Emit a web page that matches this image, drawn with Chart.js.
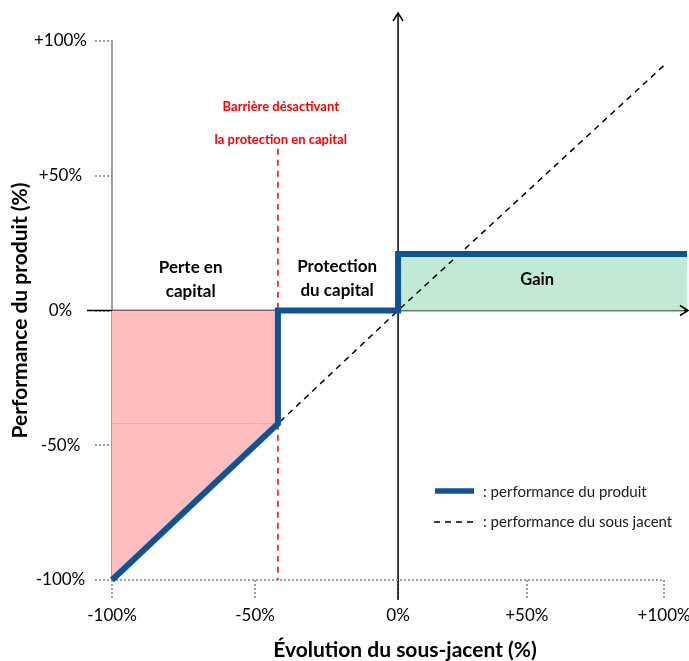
<!DOCTYPE html>
<html>
<head>
<meta charset="utf-8">
<script src="https://cdn.jsdelivr.net/npm/chart.js@4"></script>
<style>
  html, body { margin: 0; padding: 0; background: #fff; }
  #wrap { width: 689px; height: 661px; }
</style>
</head>
<body>
<div id="wrap"><canvas id="myChart"></canvas></div>
<script>
// x = évolution du sous-jacent (%), y = performance du produit (%)
var productX = [-100, -42, -42, 0, 0, 101];
var productY = [-100, -42, 0, 0, 21, 21];
var underlyingX = [-100, 0, 93];
var underlyingY = [-100, 0, 91];
var barrierX = [-42, -42];
var barrierY = [60, -100];
var lossX = [-100, -42];
var lossY = [-100, -42];
var gainX = [0, 101];
var gainY = [21, 21];
var frameX = [-100, 93];
var frameY = [-100, -100];

var xTickValues = [-100, -50, 0, 45, 93];
var xTickLabels = ["-100%", "-50%", "0%", "+50%", "+100%"];
var yTickValues = [-100, -50, 0, 50, 100];
var yTickLabels = ["-100%", "-50%", "0%", "+50%", "+100%"];

var FONT = "Lato, 'Open Sans', sans-serif";
var BLUE = "#0f5396";
var GRAY = "#a0a0a0";

function pts(xs, ys) {
  return xs.map(function (x, i) { return { x: x, y: ys[i] }; });
}

function setTicks(values) {
  return function (scale) {
    scale.ticks = values.map(function (v) { return { value: v }; });
  };
}

function labelFor(values, labels) {
  return function (value) {
    var i = values.indexOf(value);
    return i < 0 ? "" : labels[i];
  };
}

// black axes, drawn under the curves; arrow heads drawn on top
var axesPlugin = {
  id: "axes",
  beforeDatasetsDraw: function (chart) {
    var ctx = chart.ctx;
    var xs = chart.scales.x, ys = chart.scales.y;
    var x0 = xs.getPixelForValue(0), y0 = ys.getPixelForValue(0);
    ctx.save();
    ctx.strokeStyle = "#000";
    ctx.lineWidth = 1.5;
    ctx.beginPath();
    ctx.moveTo(x0, ys.bottom + 20);
    ctx.lineTo(x0, 13);
    ctx.moveTo(xs.left - 25, y0);
    ctx.lineTo(chart.width - 1, y0);
    ctx.stroke();
    ctx.restore();
  },
  afterDatasetsDraw: function (chart) {
    var ctx = chart.ctx;
    var x0 = chart.scales.x.getPixelForValue(0);
    var y0 = chart.scales.y.getPixelForValue(0);
    var right = chart.width - 1, top = 13;
    ctx.save();
    ctx.strokeStyle = "#000";
    ctx.lineWidth = 1.5;
    ctx.beginPath();
    ctx.moveTo(x0 - 5, top + 8);
    ctx.lineTo(x0, top);
    ctx.lineTo(x0 + 5, top + 8);
    ctx.moveTo(right - 8, y0 - 5);
    ctx.lineTo(right, y0);
    ctx.lineTo(right - 8, y0 + 5);
    ctx.moveTo(right - 4, y0);
    ctx.lineTo(right, y0);
    ctx.stroke();
    ctx.restore();
  }
};

// zone labels, legend and x axis title
var textPlugin = {
  id: "texts",
  afterDatasetsDraw: function (chart) {
    var ctx = chart.ctx;
    var xs = chart.scales.x, ys = chart.scales.y;
    function text(str, vx, vy, size, color) {
      ctx.font = "bold " + size + "px " + FONT;
      ctx.fillStyle = color;
      ctx.fillText(str, xs.getPixelForValue(vx), ys.getPixelForValue(vy));
    }
    ctx.save();
    ctx.textAlign = "center";
    ctx.textBaseline = "middle";
    text("Barrière désactivant", -41, 75.5, 13, "#ff0000");
    text("la protection en capital", -41, 63.3, 13, "#ff0000");
    text("Perte en", -72.5, 16, 17, "#000");
    text("capital", -72.5, 7, 17, "#000");
    text("Protection", -21.3, 16.3, 17, "#000");
    text("du capital", -21.3, 7.5, 17, "#000");
    text("Gain", 48.6, 11.3, 16.5, "#000");

    // legend
    ctx.lineWidth = 5.5;
    ctx.strokeStyle = BLUE;
    ctx.beginPath();
    ctx.moveTo(435, 491);
    ctx.lineTo(474, 491);
    ctx.stroke();
    ctx.lineWidth = 1.5;
    ctx.strokeStyle = "#000";
    ctx.setLineDash([6, 5]);
    ctx.beginPath();
    ctx.moveTo(434, 522);
    ctx.lineTo(474, 522);
    ctx.stroke();
    ctx.setLineDash([]);
    ctx.textAlign = "left";
    ctx.font = "15px " + FONT;
    ctx.fillStyle = "#1a1a1a";
    ctx.fillText(": performance du produit", 483, 492);
    ctx.fillText(": performance du sous jacent", 483, 522);

    ctx.textAlign = "center";
    ctx.font = "bold 21px " + FONT;
    ctx.fillStyle = "#000";
    ctx.fillText("Évolution du sous-jacent (%)", 405, 650);
    ctx.restore();
  }
};

new Chart("myChart", {
  type: "scatter",
  data: {
    datasets: [
      {
        label: "performance du produit",
        data: pts(productX, productY),
        showLine: true,
        borderColor: BLUE,
        borderWidth: 6,
        borderJoinStyle: "miter",
        pointRadius: 0,
        fill: false,
        clip: false,
        order: 0
      },
      {
        label: "performance du sous jacent",
        data: pts(underlyingX, underlyingY),
        showLine: true,
        borderColor: "#000",
        borderWidth: 1.5,
        borderDash: [6, 5],
        pointRadius: 0,
        fill: false,
        order: 1
      },
      {
        label: "barrière",
        data: pts(barrierX, barrierY),
        showLine: true,
        borderColor: "#ff0000",
        borderWidth: 1.5,
        borderDash: [6, 5],
        pointRadius: 0,
        fill: false,
        order: 2
      },
      {
        label: "cadre",
        data: pts(frameX, frameY),
        showLine: true,
        borderColor: GRAY,
        borderWidth: 2,
        borderDash: [2, 2],
        pointRadius: 0,
        fill: false,
        clip: false,
        order: 3
      },
      {
        label: "perte",
        data: [{ x: lossX[0], y: lossY[1] }, { x: lossX[1], y: lossY[1] }],
        showLine: true,
        borderColor: "#f7a3a3",
        borderWidth: 1,
        pointRadius: 0,
        fill: false,
        order: 3
      },
      {
        label: "perte en capital",
        data: pts(lossX, lossY),
        showLine: true,
        borderWidth: 0,
        borderColor: "rgba(0,0,0,0)",
        backgroundColor: "#ffbdbd",
        pointRadius: 0,
        fill: { value: 0 },
        order: 4
      },
      {
        label: "gain",
        data: pts(gainX, gainY),
        showLine: true,
        borderWidth: 0,
        borderColor: "rgba(0,0,0,0)",
        backgroundColor: "#c0ead3",
        pointRadius: 0,
        fill: { value: 0 },
        order: 4
      }
    ]
  },
  options: {
    responsive: true,
    maintainAspectRatio: false,
    animation: false,
    layout: { padding: { top: 41, right: 2, left: 0, bottom: 0 } },
    plugins: {
      legend: { display: false },
      tooltip: { enabled: false }
    },
    scales: {
      x: {
        type: "linear",
        min: -100,
        max: 101,
        afterBuildTicks: setTicks(xTickValues),
        afterFit: function (scale) {
          scale.height = 81;
          scale.paddingLeft = 0;
          scale.paddingRight = 0;
        },
        grid: {
          drawOnChartArea: false,
          tickLength: 20,
          tickColor: GRAY,
          tickBorderDash: [2, 2],
          lineWidth: 2
        },
        border: { display: false },
        ticks: {
          callback: labelFor(xTickValues, xTickLabels),
          color: "#000",
          font: { family: FONT, size: 17 },
          padding: 5,
          maxRotation: 0
        }
      },
      y: {
        type: "linear",
        min: -100,
        max: 100,
        afterBuildTicks: setTicks(yTickValues),
        afterFit: function (scale) { scale.width = 112; },
        grid: {
          drawOnChartArea: false,
          tickLength: 17,
          tickColor: GRAY,
          tickBorderDash: [2, 2],
          lineWidth: 2
        },
        border: { color: GRAY, dash: [2, 2], width: 2 },
        ticks: {
          callback: labelFor(yTickValues, yTickLabels),
          color: "#000",
          font: { family: FONT, size: 17 },
          crossAlign: "center",
          padding: 8
        },
        title: {
          display: true,
          text: "Performance du produit (%)",
          color: "#000",
          font: { family: FONT, size: 21, weight: "bold" },
          padding: { top: 8, bottom: 0 }
        }
      }
    }
  },
  plugins: [axesPlugin, textPlugin]
});
</script>
</body>
</html>
